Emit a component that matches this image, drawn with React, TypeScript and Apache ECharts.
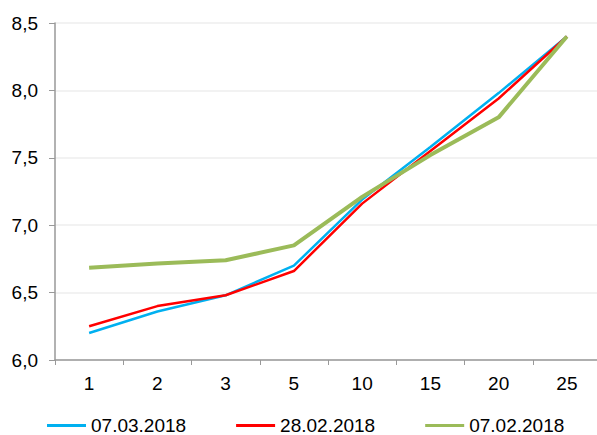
import React, { useEffect, useRef } from "react";
import * as echarts from "echarts";

const categories = ["1", "2", "3", "5", "10", "15", "20", "25"];
const seriesNames = ["07.03.2018", "28.02.2018", "07.02.2018"];
const blueValues = [6.2, 6.36, 6.48, 6.7, 7.19, 7.58, 7.98, 8.4];
const redValues = [6.25, 6.4, 6.48, 6.66, 7.16, 7.55, 7.94, 8.4];
const greenValues = [6.685, 6.715, 6.74, 6.85, 7.21, 7.52, 7.8, 8.4];
const yTicks = { min: 6, max: 8.5, interval: 0.5 };

export default function App() {
  const ref = useRef<HTMLDivElement>(null);
  useEffect(() => {
    if (!ref.current) return;
    const chart = echarts.init(ref.current, null, { renderer: "svg" });
    const font = "Liberation Sans, Arial, sans-serif";
    chart.setOption({
      animation: false,
      grid: {
        left: 55,
        top: 23,
        bottom: 75,
        width: 546,
        containLabel: false,
        outerBoundsMode: "none",
      },
      legend: {
        left: 47,
        top: 416,
        padding: 0,
        icon: "rect",
        itemWidth: 39,
        itemHeight: 3,
        itemGap: 50,
        textStyle: { fontFamily: font, fontSize: 19, color: "#000" },
        data: seriesNames,
      },
      xAxis: {
        type: "category",
        data: categories,
        boundaryGap: true,
        axisLine: { lineStyle: { color: "#999", width: 1.5 } },
        axisTick: { show: true, length: 5, lineStyle: { color: "#999" } },
        axisLabel: { fontFamily: font, fontSize: 19, color: "#000", margin: 14 },
        splitLine: { show: false },
      },
      yAxis: {
        type: "value",
        min: yTicks.min,
        max: yTicks.max,
        interval: yTicks.interval,
        axisLine: { show: true, lineStyle: { color: "#999", width: 1.5 } },
        axisTick: { show: true, length: 6, lineStyle: { color: "#999" } },
        axisLabel: {
          fontFamily: font,
          fontSize: 19,
          color: "#000",
          margin: 17,
          formatter: (v: number) => v.toFixed(1).replace(".", ","),
        },
        splitLine: { show: true, lineStyle: { color: "#eeeeee", width: 1.5 } },
      },
      series: [
        {
          name: seriesNames[0],
          type: "line",
          data: blueValues,
          showSymbol: false,
          lineStyle: { color: "#00b0f0", width: 2.5 },
          itemStyle: { color: "#00b0f0" },
          z: 3,
        },
        {
          name: seriesNames[1],
          type: "line",
          data: redValues,
          showSymbol: false,
          lineStyle: { color: "#ff0000", width: 2.5 },
          itemStyle: { color: "#ff0000" },
          z: 4,
        },
        {
          name: seriesNames[2],
          type: "line",
          data: greenValues,
          showSymbol: false,
          lineStyle: { color: "#9bbb59", width: 4 },
          itemStyle: { color: "#9bbb59" },
          z: 5,
        },
      ],
    });
    return () => chart.dispose();
  }, []);
  return (
    <div
      ref={ref}
      style={{ position: "fixed", left: 0, top: 0, width: 597, height: 435, background: "#fff" }}
    />
  );
}
